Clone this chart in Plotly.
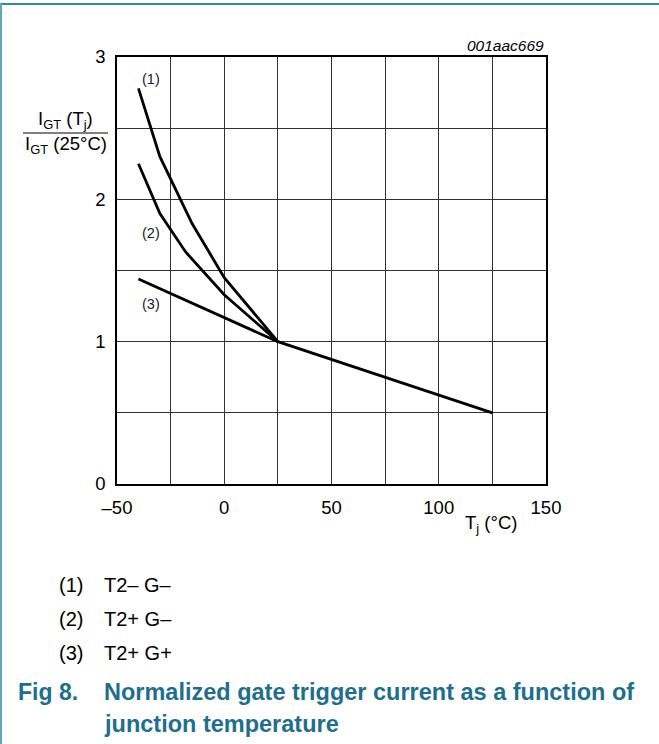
import plotly.graph_objects as go

# ---- data ----
t1 = [-40, -30, -15, 0, 25]
v1 = [2.78, 2.30, 1.83, 1.45, 1.00]
t2 = [-40, -30, -18, 0, 25]
v2 = [2.25, 1.90, 1.63, 1.33, 1.00]
t3 = [-40, 25, 125]
v3 = [1.44, 1.00, 0.50]

curve_labels = ["(1)", "(2)", "(3)"]
legend_codes = ["(1)", "(2)", "(3)"]
legend_texts = ["T2\u2013 G\u2013", "T2+ G\u2013", "T2+ G+"]

x_ticks = [-50, 0, 50, 100, 150]
x_ticktext = ["\u201350", "0", "50", "100", "150"]
y_ticks = [0, 1, 2, 3]

W, H = 659, 744
L, R, T, B = 117, 546, 57, 484
FONT = "Liberation Sans, Arial, sans-serif"
TEAL = "#1d6f8c"


def px(x):
    return (x - L) / (R - L)


def py(y):
    return (B - y) / (B - T)


fig = go.Figure()
for xs, ys in [(t1, v1), (t2, v2), (t3, v3)]:
    fig.add_trace(go.Scatter(x=xs, y=ys, mode="lines",
                             line=dict(color="black", width=2.8),
                             showlegend=False, hoverinfo="skip"))

fig.update_layout(
    width=W, height=H,
    margin=dict(l=L, r=W - R, t=T, b=H - B),
    paper_bgcolor="white", plot_bgcolor="white",
    font=dict(family=FONT, color="black", size=18),
    xaxis=dict(range=[-50, 150], showgrid=True,
               gridcolor="#333", gridwidth=1, zeroline=False,
               showline=True, linecolor="black", linewidth=1.5, mirror=True,
               tickmode="array", tickvals=x_ticks, ticktext=x_ticktext,
               ticks="", ticklabelstandoff=6, tickfont=dict(size=18.5, family=FONT)),
    yaxis=dict(range=[0, 3], showgrid=True, gridcolor="#333", gridwidth=1,
               zeroline=False, showline=True, linecolor="black", linewidth=1.5,
               mirror=True, tickmode="array", tickvals=y_ticks, ticks="",
               ticklabelstandoff=6, tickfont=dict(size=18.5, family=FONT)),
)
fig.update_xaxes(minor=dict(dtick=25, tick0=-50, showgrid=True, gridcolor="#333", gridwidth=1))
fig.update_yaxes(minor=dict(dtick=0.5, tick0=0, showgrid=True, gridcolor="#333", gridwidth=1))

ann = []


def add_text(x, y, text, size, xanchor="center", color="black"):
    ann.append(dict(x=px(x), y=py(y), xref="paper", yref="paper", text=text,
                    xanchor=xanchor, yanchor="middle", showarrow=False,
                    font=dict(size=size, color=color, family=FONT)))


# curve labels
for lab, (x, y) in zip(curve_labels, [(151, 79), (151, 233), (151, 304)]):
    add_text(x, y, lab, 14.5, color="#222")
# y-axis fraction title
add_text(65.5, 120, "I<sub>GT</sub> (T<sub>j</sub>)", 18.5)
add_text(65.5, 145, "I<sub>GT</sub> (25\u00b0C)", 18.5)
# x-axis title
add_text(491, 524, "T<sub>j</sub> (\u00b0C)", 18.5)
# figure code
add_text(546, 46, "<i>001aac669</i>", 15.5, xanchor="right")
# legend text
for code, txt, y in zip(legend_codes, legend_texts, [585, 619, 653]):
    add_text(57, y, code, 20, xanchor="left")
    add_text(102, y, txt, 20, xanchor="left")
# caption
add_text(16, 692, "<b>Fig 8.</b>", 23, xanchor="left", color=TEAL)
add_text(102, 692, "<b>Normalized gate trigger current as a function of</b>", 23.5,
         xanchor="left", color=TEAL)
add_text(102, 724, "<b>junction temperature</b>", 23.5, xanchor="left", color=TEAL)
fig.update_layout(annotations=ann)

shapes = [
    # fraction bar
    dict(type="line", xref="paper", yref="paper", x0=px(23), x1=px(108),
         y0=py(133), y1=py(133), line=dict(color="black", width=1)),
    # frame borders (teal)
    dict(type="line", xref="paper", yref="paper", x0=px(0), x1=px(W),
         y0=py(4), y1=py(4), line=dict(color="#2b8ba6", width=2)),
    dict(type="line", xref="paper", yref="paper", x0=px(1), x1=px(1),
         y0=py(3), y1=py(H), line=dict(color="#5aa9bf", width=2)),
]
fig.update_layout(shapes=shapes)

fig.write_html("out.html")
